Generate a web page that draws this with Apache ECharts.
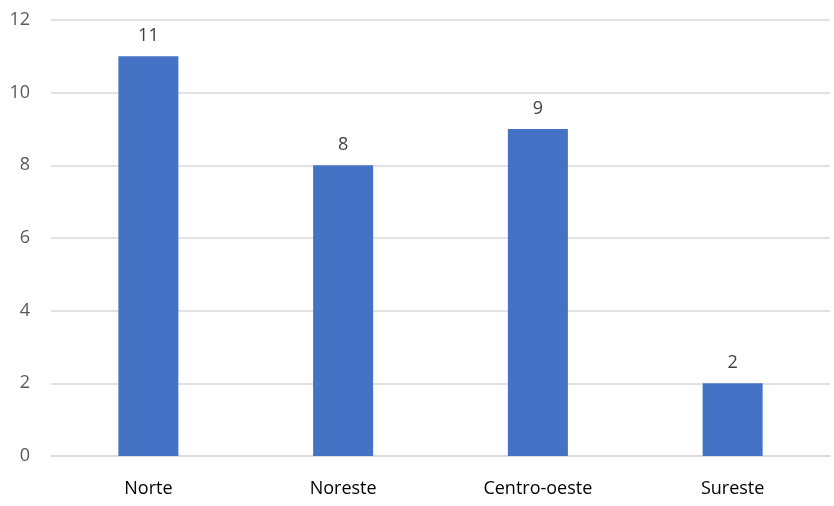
<!DOCTYPE html>
<html>
<head>
<meta charset="utf-8">
<script src="https://cdn.jsdelivr.net/npm/echarts@6/dist/echarts.min.js"></script>
<style>html,body{margin:0;padding:0;background:#fff;}#c{width:834px;height:506px;}</style>
</head>
<body>
<div id="c"></div>
<script>
const categories = ['Norte', 'Noreste', 'Centro-oeste', 'Sureste'];
const values = [11, 8, 9, 2];

const chart = echarts.init(document.getElementById('c'), null, {renderer: 'canvas'});
chart.setOption({
  animation: false,
  backgroundColor: '#ffffff',
  grid: {left: 51, right: 4, top: 20, bottom: 50, containLabel: false},
  xAxis: {
    type: 'category',
    data: categories,
    axisLine: {lineStyle: {color: '#d9d9d9', width: 1.5}},
    axisTick: {show: false},
    axisLabel: {color: '#000000', fontSize: 18, fontFamily: 'Open Sans, Liberation Sans, sans-serif', margin: 24}
  },
  yAxis: {
    type: 'value',
    min: 0, max: 12, interval: 2,
    axisLine: {show: false},
    axisTick: {show: false},
    splitLine: {lineStyle: {color: '#d9d9d9', width: 1.5}},
    axisLabel: {color: '#595959', fontSize: 18, fontFamily: 'Open Sans, Liberation Sans, sans-serif', margin: 21}
  },
  series: [{
    type: 'bar',
    data: values,
    barWidth: 60,
    itemStyle: {color: '#4472C4'},
    label: {show: true, position: 'top', distance: 11, color: '#404040', fontSize: 18, fontFamily: 'Open Sans, Liberation Sans, sans-serif'}
  }]
});
</script>
</body>
</html>
